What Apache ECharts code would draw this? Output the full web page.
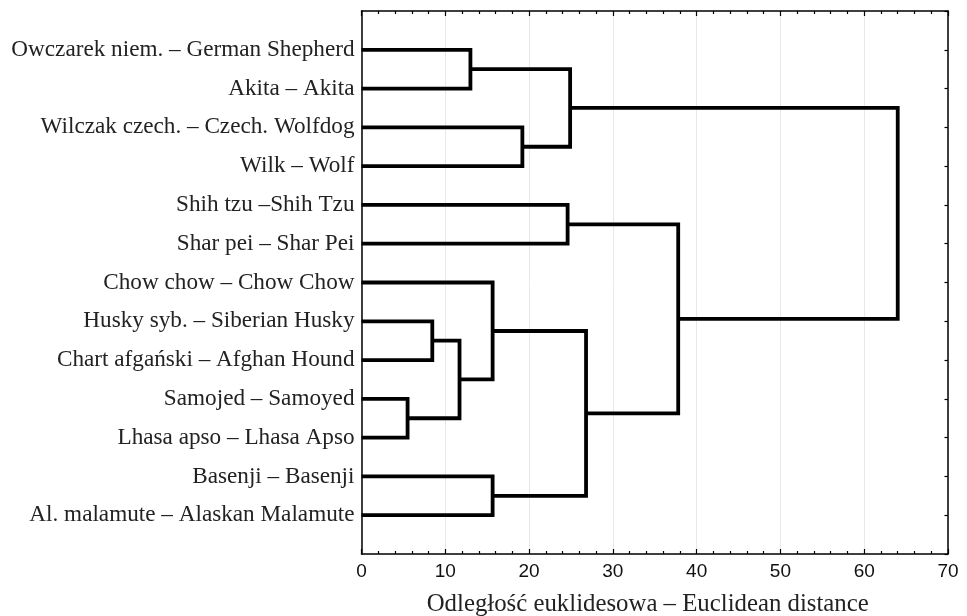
<!DOCTYPE html>
<html>
<head>
<meta charset="utf-8">
<script src="https://cdn.jsdelivr.net/npm/echarts@6/dist/echarts.min.js"></script>
<style>html,body{margin:0;padding:0;background:#fff}#c{width:967px;height:616px}</style>
</head>
<body>
<div id="c"></div>
<script>
// Leaves (top to bottom)
var leaves = [
  'Owczarek niem. – German Shepherd',
  'Akita – Akita',
  'Wilczak czech. – Czech. Wolfdog',
  'Wilk – Wolf',
  'Shih tzu –Shih Tzu',
  'Shar pei – Shar Pei',
  'Chow chow – Chow Chow',
  'Husky syb. – Siberian Husky',
  'Chart afgański – Afghan Hound',
  'Samojed – Samoyed',
  'Lhasa apso – Lhasa Apso',
  'Basenji – Basenji',
  'Al. malamute – Alaskan Malamute'
];
// Merges: ids < 13 are leaves, id 13+k is merge k
var mergeA = [9, 7, 14, 0, 6, 11, 2, 4, 16, 17, 20, 21];
var mergeB = [10, 8, 13, 1, 15, 12, 3, 5, 19, 18, 22, 23];
var mergeHeight = [5.5, 8.45, 11.7, 13.0, 15.65, 15.65, 19.2, 24.6, 24.9, 26.8, 37.8, 64.0];
var xTicks = [0, 10, 20, 30, 40, 50, 60, 70];
var xTitle = 'Odległość euklidesowa – Euclidean distance';

var n = leaves.length;
var posY = [], posH = [];
for (var i = 0; i < n; i++) { posY.push(i + 1); posH.push(0); }
var series = [];
for (var k = 0; k < mergeA.length; k++) {
  var a = mergeA[k], b = mergeB[k], h = mergeHeight[k];
  series.push({
    type: 'line', xAxisIndex: 0, yAxisIndex: 0, symbol: 'none', silent: true,
    clip: false, animation: false,
    lineStyle: { color: '#000', width: 3.8, join: 'miter', cap: 'butt' },
    data: [[posH[a], posY[a]], [h, posY[a]], [h, posY[b]], [posH[b], posY[b]]]
  });
  posY.push((posY[a] + posY[b]) / 2);
  posH.push(h);
}

var chart = echarts.init(document.getElementById('c'), null, { renderer: 'canvas' });
chart.setOption({
  backgroundColor: '#fff',
  animation: false,
  grid: { left: 361.5, right: 19, top: 11, bottom: 62, containLabel: false, outerBoundsMode: 'none' },
  xAxis: [{
    type: 'value', position: 'bottom', min: xTicks[0], max: xTicks[xTicks.length - 1], interval: 10,
    axisLine: { show: true, onZero: false, lineStyle: { color: '#000', width: 1.5 } },
    axisTick: { show: true, inside: true, length: 5, lineStyle: { color: '#000', width: 1.2 } },
    minorTick: { show: true, splitNumber: 5, length: 3, lineStyle: { color: '#000', width: 1.2 } },
    axisLabel: { color: '#111', fontFamily: 'Liberation Sans, Arial, sans-serif', fontSize: 19, margin: 8 },
    splitLine: { show: true, lineStyle: { color: '#e8e8e8', width: 1 } },
    name: xTitle, nameLocation: 'middle', nameGap: 38,
    nameTextStyle: { color: '#222', fontFamily: 'Liberation Serif, Times New Roman, serif', fontSize: 24.8, padding: [0, 14, 0, 0] }
  }, {
    type: 'value', position: 'top', min: 0, max: 70, interval: 10,
    axisLine: { show: true, onZero: false, lineStyle: { color: '#000', width: 1.5 } },
    axisTick: { show: true, inside: true, length: 5, lineStyle: { color: '#000', width: 1.2 } },
    minorTick: { show: true, splitNumber: 5, length: 3, lineStyle: { color: '#000', width: 1.2 } },
    axisLabel: { show: false }, splitLine: { show: false }
  }],
  yAxis: [{
    type: 'value', position: 'left', inverse: true, min: 0, max: n + 1, interval: 1,
    axisLine: { show: true, onZero: false, lineStyle: { color: '#000', width: 1.5 } },
    axisTick: { show: false },
    axisLabel: {
      color: '#222', fontFamily: 'Liberation Serif, Times New Roman, serif', fontSize: 23.2, margin: 7,
      formatter: function (v) { return (v >= 1 && v <= n) ? leaves[v - 1] : ''; }
    },
    splitLine: { show: false }
  }, {
    type: 'value', position: 'right', inverse: true, min: 0, max: n + 1, interval: 1,
    axisLine: { show: true, onZero: false, lineStyle: { color: '#000', width: 1.5 } },
    axisTick: { show: true, inside: true, length: 3.5, lineStyle: { color: '#000', width: 1.2 } },
    axisLabel: { show: false }, splitLine: { show: false }
  }],
  series: series
});
</script>
</body>
</html>
